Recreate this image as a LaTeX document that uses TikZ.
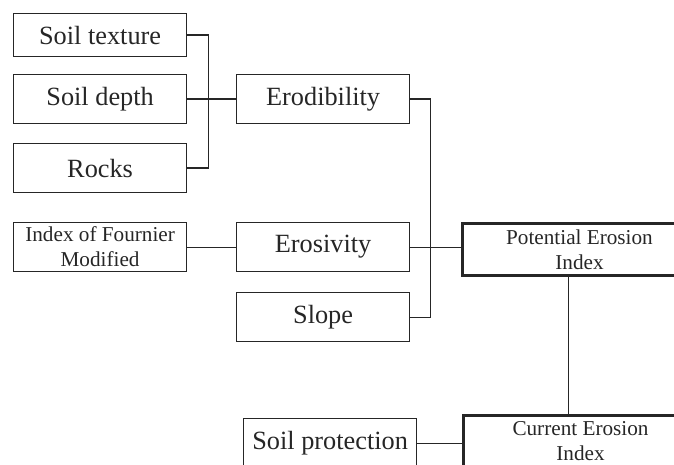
\documentclass[tikz,border=0pt]{standalone}
\usepackage{fontspec}
\setmainfont{Liberation Serif}
\usepackage{tikz}
\newcommand{\bigtext}{\fontsize{26.3}{30}\selectfont}
\newcommand{\smalltext}{\fontsize{21.2}{25}\selectfont}
\newcommand{\widthfactor}{173pt}
\newcommand{\widthindex}{234pt}
\tikzset{
    common/.style={anchor=north west, draw, rectangle, line width=1.2pt, inner sep=2pt, minimum height=49pt},
    factor/.style={common, minimum width=\widthfactor, font=\bigtext},
    subfactor/.style={common, minimum width=\widthfactor, font=\smalltext, align=center},
    index/.style={common, line width=3pt, minimum width=\widthindex, minimum height=52pt, font=\smalltext, align=center},
    link/.style={line width=1.2pt}
}
\begin{document}
\begin{tikzpicture}[x=1pt, y=-1pt, color={black!85}]
      \useasboundingbox (0,0) rectangle (674,465);
      \clip (0,0) rectangle (674,465);

      % inputs of erodibility
      \node[factor, minimum height=43pt] (texture) at (13,13) {Soil texture};
      \node[factor] (depth) at (13,74) {Soil depth};
      \node[factor] (rocks) at (13,143) {Rocks};
      \node[subfactor] (fournier) at (13,222) {Index of Fournier\\Modified};

      % factors
      \node[factor] (erodib) at (236,74) {Erodibility};
      \node[factor] (erosiv) at (236,222) {Erosivity};
      \node[factor] (slope) at (236,292) {Slope};
      \node[factor] (protect) at (243,418) {Soil protection};

      % indexes
      \node[index] (potential) at (461,222) {Potential Erosion\\Index};
      \node[index] (current) at (462,414) {Current Erosion\\Index};

      \draw[link] (texture.east) -- ++(21,0) |- (rocks.east);
      \draw[link] (depth.east) -- (erodib.west);
      \draw[link] (fournier.east) -- (erosiv.west);
      \draw[link] (erodib.east) -- ++(20,0) |- (slope.east);
      \draw[link] (erosiv.east) -- (erosiv.east -| potential.west);
      \draw[link] ([xshift=-11pt]potential.south) -- ([xshift=-11pt]potential.south |- current.north);
      \draw[link] (protect.east) -- (protect.east -| current.west);
  \end{tikzpicture}
\end{document}
